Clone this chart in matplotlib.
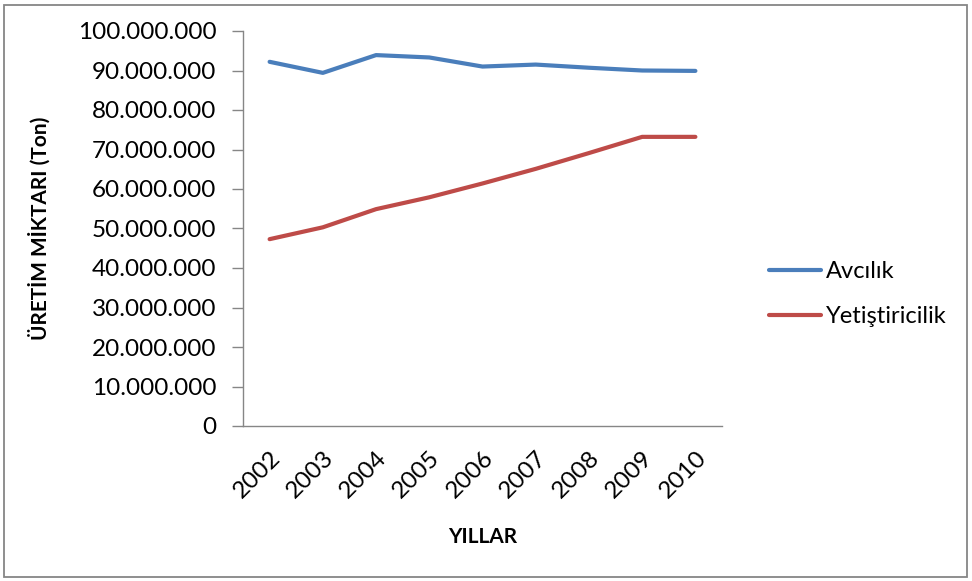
import matplotlib
matplotlib.use("Agg")
import matplotlib.pyplot as plt
from matplotlib.patches import Rectangle
from matplotlib.ticker import FuncFormatter

years = ["2002", "2003", "2004", "2005", "2006", "2007", "2008", "2009", "2010"]
avcilik = [92.2e6, 89.4e6, 93.9e6, 93.3e6, 91.0e6, 91.5e6, 90.7e6, 90.0e6, 89.9e6]
yetistiricilik = [47.3e6, 50.3e6, 54.9e6, 57.9e6, 61.4e6, 65.1e6, 69.1e6, 73.2e6, 73.2e6]
series_names = ["Avcılık", "Yetiştiricilik"]
y_ticks = list(range(0, 100_000_001, 10_000_000))

plt.rcParams['font.family'] = ['Lato', 'DejaVu Sans']

W, H = 972, 581
fig = plt.figure(figsize=(W / 100, H / 100), dpi=100)
fig.patches.append(Rectangle((4 / W, 4 / H), (W - 9) / W, (H - 9) / H, transform=fig.transFigure,
                             fill=False, edgecolor="#868686", linewidth=1.3))

ax = fig.add_axes([243 / W, 1 - 426 / H, (722 - 243) / W, (426 - 31) / H])
x = list(range(len(years)))
ax.plot(x, avcilik, color="#4A7EBB", lw=3, solid_capstyle="round", label=series_names[0])
ax.plot(x, yetistiricilik, color="#BE4B48", lw=3, solid_capstyle="round", label=series_names[1])

ax.set_xlim(-0.5, len(years) - 0.5)
ax.set_ylim(0, 100_000_000)
ax.set_yticks(y_ticks)
ax.yaxis.set_major_formatter(FuncFormatter(lambda v, p: f"{int(v):,}".replace(",", ".")))
ax.set_xticks(x)
ax.set_xticklabels(years, rotation=45, ha="right", rotation_mode="anchor")

for s in ["top", "right"]:
    ax.spines[s].set_visible(False)
for s in ["left", "bottom"]:
    ax.spines[s].set_color("#868686")
    ax.spines[s].set_linewidth(1.0)
ax.tick_params(axis="y", direction="out", length=8, width=1, color="#868686", labelsize=17.5, pad=11)
ax.tick_params(axis="x", length=0, labelsize=17.5, pad=15)

ax.set_ylabel("ÜRETİM MİKTARI (Ton)", fontsize=15, fontweight="bold", labelpad=20)
ax.set_xlabel("YILLAR", fontsize=15, fontweight="bold", labelpad=18)

leg = fig.legend(loc="upper left", bbox_to_anchor=(748 / W, 1 - 240 / H), frameon=False,
                 fontsize=17, handlelength=2.2, handletextpad=0.2, labelspacing=1.0)

fig.savefig("out.png", dpi=100)
